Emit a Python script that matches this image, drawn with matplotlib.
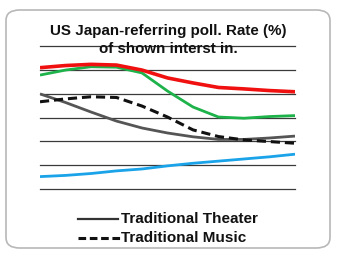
import matplotlib
matplotlib.use("Agg")
import matplotlib.pyplot as plt
from matplotlib.patches import FancyBboxPatch

# values in grid units (0 = bottom gridline, 6 = top gridline)
x = list(range(11))
red = [5.09, 5.18, 5.23, 5.20, 4.99, 4.66, 4.45, 4.26, 4.20, 4.13, 4.08]
green = [4.78, 4.99, 5.13, 5.11, 4.87, 4.11, 3.44, 3.02, 2.97, 3.04, 3.08]
theater = [3.99, 3.63, 3.23, 2.85, 2.56, 2.35, 2.19, 2.08, 2.08, 2.14, 2.22]
music = [3.66, 3.78, 3.87, 3.84, 3.48, 3.02, 2.48, 2.20, 2.06, 1.99, 1.92]
blue = [0.52, 0.57, 0.65, 0.76, 0.84, 0.97, 1.08, 1.17, 1.26, 1.35, 1.46]
grid_levels = [0, 1, 2, 3, 4, 5, 6]

title1 = "US Japan-referring poll. Rate (%)"
title2 = "of shown interst in."
labels = ["Traditional Theater", "Traditional Music"]

plt.rcParams["font.family"] = ["Liberation Sans", "DejaVu Sans"]

W, H = 343, 259
fig = plt.figure(figsize=(W / 100, H / 100), dpi=100)
fig.patch.set_facecolor("white")

# rounded frame
frame = FancyBboxPatch((6 / W, 11 / H), 324 / W, 238 / H,
                       boxstyle="round,pad=0,rounding_size=0.04",
                       transform=fig.transFigure, facecolor="none",
                       edgecolor="#b8b8b8", linewidth=1.2, zorder=-1)
fig.patches.append(frame)

ax = fig.add_axes([40 / W, 70 / H, 255 / W, 143 / H])
ax.set_xlim(0, 10)
ax.set_ylim(0, 6)
ax.axis("off")
ax.patch.set_alpha(0)

for g in grid_levels:
    ax.axhline(g, color="#3a3a3a", lw=0.9, zorder=1, clip_on=False)

ax.plot(x, blue, color="#1aa3e8", lw=2.0, zorder=3, solid_capstyle="butt")
ax.plot(x, theater, color="#555555", lw=2.0, zorder=3, solid_capstyle="butt")
ax.plot(x, music, color="#111111", lw=2.2, ls=(0, (3, 1.6)), zorder=3)
ax.plot(x, green, color="#1db24a", lw=2.0, zorder=4, solid_capstyle="butt")
ax.plot(x, red, color="#f01010", lw=2.6, zorder=5, solid_capstyle="butt")

fig.text(168 / W, 1 - 31 / H, title1, ha="center", va="center",
         fontsize=10.9, fontweight="bold", color="#111111")
fig.text(168 / W, 1 - 49 / H, title2, ha="center", va="center",
         fontsize=10.9, fontweight="bold", color="#111111")

# legend drawn in figure coords
fig.lines.append(plt.Line2D([78 / W, 118 / W], [1 - 219 / H] * 2, color="#333333",
                            lw=1.6, transform=fig.transFigure))
fig.lines.append(plt.Line2D([78 / W, 120 / W], [1 - 238 / H] * 2, color="#111111",
                            lw=2.2, ls=(0, (2.5, 1.2)), transform=fig.transFigure))
fig.text(121 / W, 1 - 219 / H, labels[0], ha="left", va="center",
         fontsize=11, fontweight="bold", color="#111111")
fig.text(121 / W, 1 - 238 / H, labels[1], ha="left", va="center",
         fontsize=11, fontweight="bold", color="#111111")

fig.savefig("out.png", dpi=100)
